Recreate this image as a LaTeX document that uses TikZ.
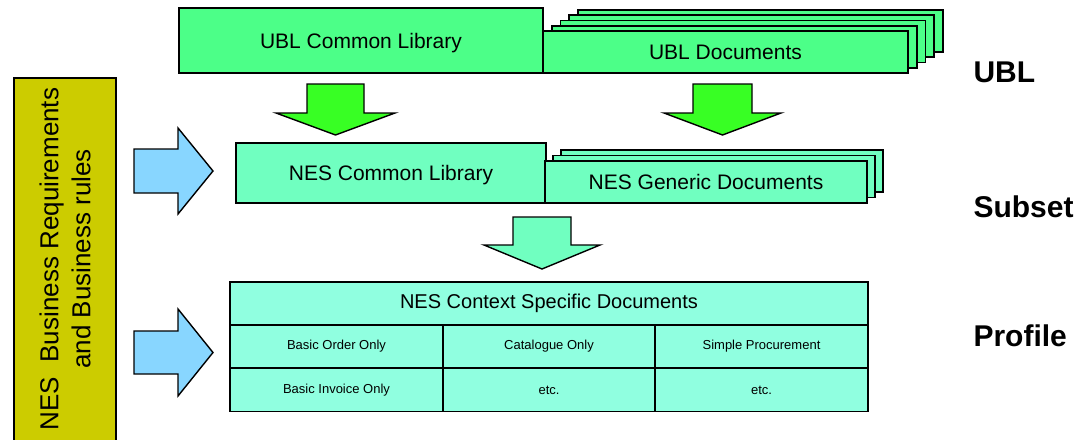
\documentclass[tikz,border=0pt]{standalone}
\usepackage{fontspec}
\setmainfont{Liberation Sans}
\usepackage{tikz}

\definecolor{ublgreen}{RGB}{76,255,136}
\definecolor{arrowgreen}{RGB}{56,255,36}
\definecolor{nesgreen}{RGB}{112,255,192}
\definecolor{tablegreen}{RGB}{144,255,224}
\definecolor{reqblue}{RGB}{136,214,255}
\definecolor{reqolive}{RGB}{204,204,0}

\tikzset{
  box/.style={draw, line width=1.6pt, inner sep=0pt, text depth=0pt, font=\fontsize{21}{25}\selectfont},
  ublbox/.style={box, fill=ublgreen},
  nesbox/.style={box, fill=nesgreen},
  cell/.style={draw, line width=1.6pt, inner sep=0pt, fill=tablegreen,
    minimum height=43, font=\fontsize{13}{15}\selectfont},
  blockarrow/.style={draw, line width=1.4pt, line join=miter},
  level/.style={anchor=west, font=\fontsize{30}{34}\selectfont\bfseries}
}

\begin{document}
\begin{tikzpicture}[x=1pt,y=-1pt]
	\useasboundingbox (0,0) rectangle (1083,439);
	\clip (0,0) rectangle (1083,439);
	% UBL
	\node (ucl) at (361,40.5) [ublbox, minimum width=364, minimum height=65] {UBL Common Library};
	\foreach \k in {4,3,2,1}
		\draw[line width=1.6pt, fill=ublgreen] (543+8.7*\k,31-5.3*\k) rectangle +(365,42);
	\node (udoc) at (725.5,52) [ublbox, minimum width=365, minimum height=42] {UBL Documents};
	\draw[blockarrow, fill=arrowgreen] (307,84) -- (364,84) -- (364,113) -- (395,113) -- (335.5,135) -- (276,113) -- (307,113) -- cycle;
	\draw[blockarrow, fill=arrowgreen] (693,84) -- (752,84) -- (752,113) -- (781,113) -- (722.5,135) -- (664,113) -- (693,113) -- cycle;
	% subset NES
	\node (ncl) at (391,173) [nesbox, minimum width=310, minimum height=60] {NES Common Library};
	\foreach \k in {2,1}
		\draw[line width=1.6pt, fill=nesgreen] (545+8*\k,161-5.5*\k) rectangle +(322,42);
	\node (ngd) at (706,182) [nesbox, minimum width=322, minimum height=42] {NES Generic Documents};
	\draw[blockarrow, fill=nesgreen] (513,217) -- (571,217) -- (571,245) -- (600,245) -- (542,269) -- (484,245) -- (513,245) -- cycle;
	% profils
	\node (ncs) at (549,303.5) [cell, minimum width=638, font=\fontsize{20}{24}\selectfont] {NES Context Specific Documents};
	\node (c11) at (336.5,346.5) [cell, minimum width=213] {Basic Order Only};
	\node (c12) at (549,346.5) [cell, minimum width=212] {Catalogue Only};
	\node (c13) at (761.5,346.5) [cell, minimum width=213] {Simple Procurement};
	\node (c21) at (336.5,390) [cell, minimum width=213] {Basic Invoice Only};
	\node (c22) at (549,390) [cell, minimum width=212] {etc.};
	\node (c23) at (761.5,390) [cell, minimum width=213] {etc.};
	% exigences
	\draw[line width=1.6pt, fill=reqolive] (14,78) rectangle (116,460);
	\node (req) at (65,259) [rotate=90, align=center, font=\fontsize{26}{32}\selectfont] {NES\ \ Business Requirements\\and Business rules};
	\draw[blockarrow, fill=reqblue] (134,149) -- (178,149) -- (178,128) -- (213,171) -- (178,214) -- (178,193) -- (134,193) -- cycle;
	\draw[blockarrow, fill=reqblue] (134,331) -- (178,331) -- (178,309) -- (213,352.5) -- (178,396) -- (178,374) -- (134,374) -- cycle;
	% niveaux
	\node (lubl) at (970,72) [level] {UBL};
	\node (lsub) at (970,207) [level] {Subset};
	\node (lpro) at (970,336) [level] {Profile};
\end{tikzpicture}
\end{document}
